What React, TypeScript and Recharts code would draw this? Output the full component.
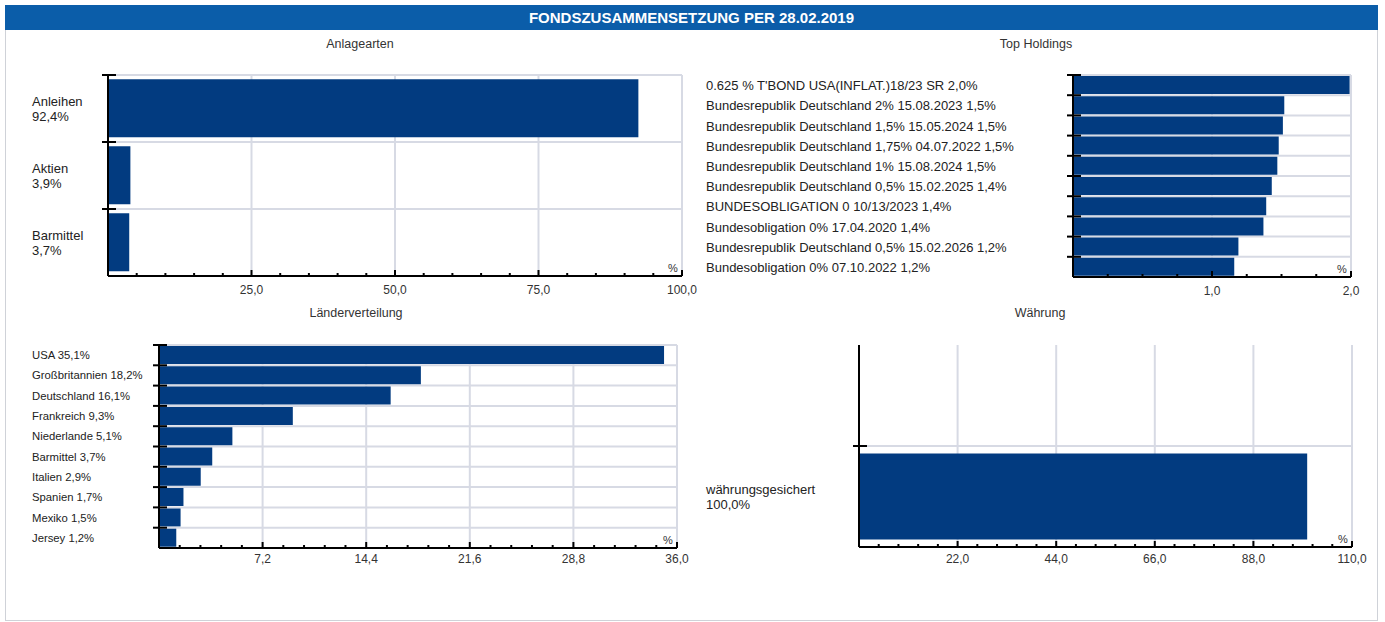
import React from 'react';
import { BarChart, Bar, XAxis, YAxis, CartesianGrid } from 'recharts';

// Anlagearten
const assetLabels = ['Anleihen', 'Aktien', 'Barmittel'];
const assetValues = [92.4, 3.9, 3.7];
const assetMajor = [25, 50, 75, 100];

// Top Holdings
const holdingLabels = [
  "0.625 % T'BOND USA(INFLAT.)18/23 SR",
  'Bundesrepublik Deutschland 2% 15.08.2023',
  'Bundesrepublik Deutschland 1,5% 15.05.2024',
  'Bundesrepublik Deutschland 1,75% 04.07.2022',
  'Bundesrepublik Deutschland 1% 15.08.2024',
  'Bundesrepublik Deutschland 0,5% 15.02.2025',
  'BUNDESOBLIGATION 0 10/13/2023',
  'Bundesobligation 0% 17.04.2020',
  'Bundesrepublik Deutschland 0,5% 15.02.2026',
  'Bundesobligation 0% 07.10.2022',
];
const holdingValues = [1.99, 1.52, 1.51, 1.48, 1.47, 1.43, 1.39, 1.37, 1.19, 1.16];
const holdingMajor = [1, 2];

// Länderverteilung
const countryLabels = ['USA', 'Großbritannien', 'Deutschland', 'Frankreich', 'Niederlande', 'Barmittel', 'Italien', 'Spanien', 'Mexiko', 'Jersey'];
const countryValues = [35.1, 18.2, 16.1, 9.3, 5.1, 3.7, 2.9, 1.7, 1.5, 1.2];
const countryMajor = [7.2, 14.4, 21.6, 28.8, 36.0];

// Währung
const currencyLabels = ['', 'währungsgesichert'];
const currencyValues: (number | null)[] = [null, 100.0];
const currencyMajor = [22, 44, 66, 88, 110];

const BAR = '#023b80';
const GRID = '#d7dae4';
const FONT = '"Liberation Sans", Arial, sans-serif';

const fmt = (v: number) => v.toFixed(1).replace('.', ',');

const minorTicks = (max: number, step: number) =>
  Array.from({ length: Math.round(max / step) + 1 }, (_, i) => +(i * step).toFixed(4));

type Row = { name: string; value: number | null; lines: string[] };

type PanelProps = {
  left: number; top: number; width: number; height: number;
  margin: { top: number; right: number; bottom: number; left: number };
  yWidth: number; xHeight: number;
  rows: Row[]; max: number; major: number[]; step: number;
  labelX: number; fontSize: number; lineH: number; gap: string; tickDy: number;
};

const Panel = (p: PanelProps) => {
  const plotH = p.height - p.margin.top - p.margin.bottom - p.xHeight;
  const bandH = plotH / p.rows.length;
  const ticks = minorTicks(p.max, p.step);
  const isMajor = (v: number) => p.major.some((m) => Math.abs(m - v) < 1e-6);

  // vertical grid only at the labelled ticks
  const vGen = (g: any) => {
    const sc = g?.xAxis?.scale;
    if (typeof sc === 'function') return p.major.map((m) => sc(m));
    const o = g.offset;
    return p.major.map((m) => o.left + (m / p.max) * o.width);
  };
  // horizontal grid at the top edge of each category band
  const hGen = (g: any) => {
    const named = p.rows.map((r, i) => ({ r, i })).filter((e) => e.r.name !== '');
    const sc = g?.yAxis?.scale;
    if (typeof sc === 'function' && typeof sc.bandwidth === 'function') {
      return named.map((e) => sc(e.r.name));
    }
    const o = g.offset;
    return named.map((e) => o.top + e.i * (o.height / p.rows.length));
  };

  const yTick = (t: any) => {
    const row = p.rows[t.index];
    if (!row) return <g />;
    const topY = t.y - bandH / 2;
    const n = row.lines.length;
    return (
      <g>
        {row.name !== '' && (
          <line x1={t.x - 6} x2={t.x + 8} y1={topY} y2={topY} stroke="#000" strokeWidth={2} />
        )}
        <text x={p.labelX} y={t.y - ((n - 1) * p.lineH) / 2} fill="#222" fontSize={p.fontSize} fontFamily={FONT} dominantBaseline="central">
          {row.lines.map((l, i) => (
            <tspan key={i} x={p.labelX} dy={i === 0 ? 0 : p.lineH}>{l}</tspan>
          ))}
        </text>
      </g>
    );
  };

  const xTick = (t: any) => {
    const v = t.payload.value as number;
    const major = isMajor(v);
    const last = Math.abs(v - p.max) < 1e-6;
    return (
      <g>
        {v > 0 && (
          <line x1={t.x} x2={t.x} y1={t.y} y2={t.y - (major ? 6 : 3)} stroke="#000" strokeWidth={2} />
        )}
        {major && (
          <text x={t.x} y={t.y + p.tickDy} textAnchor="middle" fill="#333" fontSize={12} fontFamily={FONT}>
            {fmt(v)}
          </text>
        )}
        {last && (
          <text x={t.x - 9} y={t.y - 4} textAnchor="middle" fill="#333" fontSize={11} fontFamily={FONT}>%</text>
        )}
      </g>
    );
  };

  return (
    <div style={{ position: 'absolute', left: p.left, top: p.top }}>
      <BarChart
        width={p.width}
        height={p.height}
        data={p.rows}
        layout="vertical"
        margin={p.margin}
        barCategoryGap={p.gap}
      >
        <CartesianGrid
          stroke={GRID}
          strokeWidth={2}
          verticalCoordinatesGenerator={vGen}
          horizontalCoordinatesGenerator={hGen}
        />
        <XAxis
          type="number"
          domain={[0, p.max]}
          ticks={ticks}
          interval={0}
          allowDataOverflow
          height={p.xHeight}
          tickSize={0}
          tickMargin={0}
          tickLine={false}
          axisLine={{ stroke: '#000', strokeWidth: 2 }}
          tick={xTick}
        />
        <YAxis
          type="category"
          dataKey="name"
          width={p.yWidth}
          interval={0}
          tickSize={0}
          tickMargin={0}
          tickLine={false}
          axisLine={{ stroke: '#000', strokeWidth: 2 }}
          tick={yTick}
        />
        <Bar dataKey="value" fill={BAR} isAnimationActive={false} />
      </BarChart>
    </div>
  );
};

const titleStyle = (x: number, y: number): React.CSSProperties => ({
  position: 'absolute', left: x - 100, top: y - 8, width: 200, textAlign: 'center',
  fontFamily: FONT, fontSize: 12.5, color: '#333', lineHeight: '16px',
});

export default function App() {
  const assetRows: Row[] = assetLabels.map((l, i) => ({
    name: l, value: assetValues[i], lines: [l, fmt(assetValues[i]) + '%'],
  }));
  const holdingRows: Row[] = holdingLabels.map((l, i) => ({
    name: l, value: holdingValues[i], lines: [l + ' ' + fmt(holdingValues[i]) + '%'],
  }));
  const countryRows: Row[] = countryLabels.map((l, i) => ({
    name: l, value: countryValues[i], lines: [l + ' ' + fmt(countryValues[i]) + '%'],
  }));
  const currencyRows: Row[] = currencyLabels.map((l, i) => ({
    name: l, value: currencyValues[i],
    lines: l === '' ? [] : [l, fmt(currencyValues[i] as number) + '%'],
  }));

  return (
    <div style={{ position: 'absolute', left: 0, top: 0, width: 1385, height: 622, background: '#fff', fontFamily: FONT }}>
      <div style={{ position: 'absolute', left: 5, top: 5, width: 1371, height: 614, border: '1px solid #cfd2d8' }} />
      <div style={{
        position: 'absolute', left: 5, top: 5, width: 1373, height: 25, background: '#0b5da9',
        color: '#fff', fontWeight: 'bold', fontSize: 15, textAlign: 'center', lineHeight: '25px',
      }}>
        FONDSZUSAMMENSETZUNG PER 28.02.2019
      </div>

      <div style={titleStyle(360, 44)}>Anlagearten</div>
      <div style={titleStyle(1036, 44)}>Top Holdings</div>
      <div style={titleStyle(356, 313)}>Länderverteilung</div>
      <div style={titleStyle(1040, 313)}>Währung</div>

      <Panel
        left={20} top={60} width={690} height={250}
        margin={{ top: 15, right: 28, bottom: 10, left: 0 }}
        yWidth={88} xHeight={24}
        rows={assetRows} max={100} major={assetMajor} step={5}
        labelX={12} fontSize={13} lineH={15} gap="6.5%" tickDy={18}
      />
      <Panel
        left={700} top={60} width={675} height={250}
        margin={{ top: 15, right: 24, bottom: 9, left: 0 }}
        yWidth={373} xHeight={24}
        rows={holdingRows} max={2} major={holdingMajor} step={0.25}
        labelX={6} fontSize={13} lineH={15} gap="5%" tickDy={18}
      />
      <Panel
        left={20} top={330} width={680} height={250}
        margin={{ top: 15, right: 23, bottom: 8, left: 0 }}
        yWidth={139} xHeight={24}
        rows={countryRows} max={36} major={countryMajor} step={1.44}
        labelX={12} fontSize={11.3} lineH={13} gap="5%" tickDy={15}
      />
      <Panel
        left={700} top={330} width={675} height={250}
        margin={{ top: 15, right: 23, bottom: 9, left: 0 }}
        yWidth={159} xHeight={24}
        rows={currencyRows} max={110} major={currencyMajor} step={4.4}
        labelX={6} fontSize={13} lineH={15} gap="7.5%" tickDy={16}
      />
    </div>
  );
}
